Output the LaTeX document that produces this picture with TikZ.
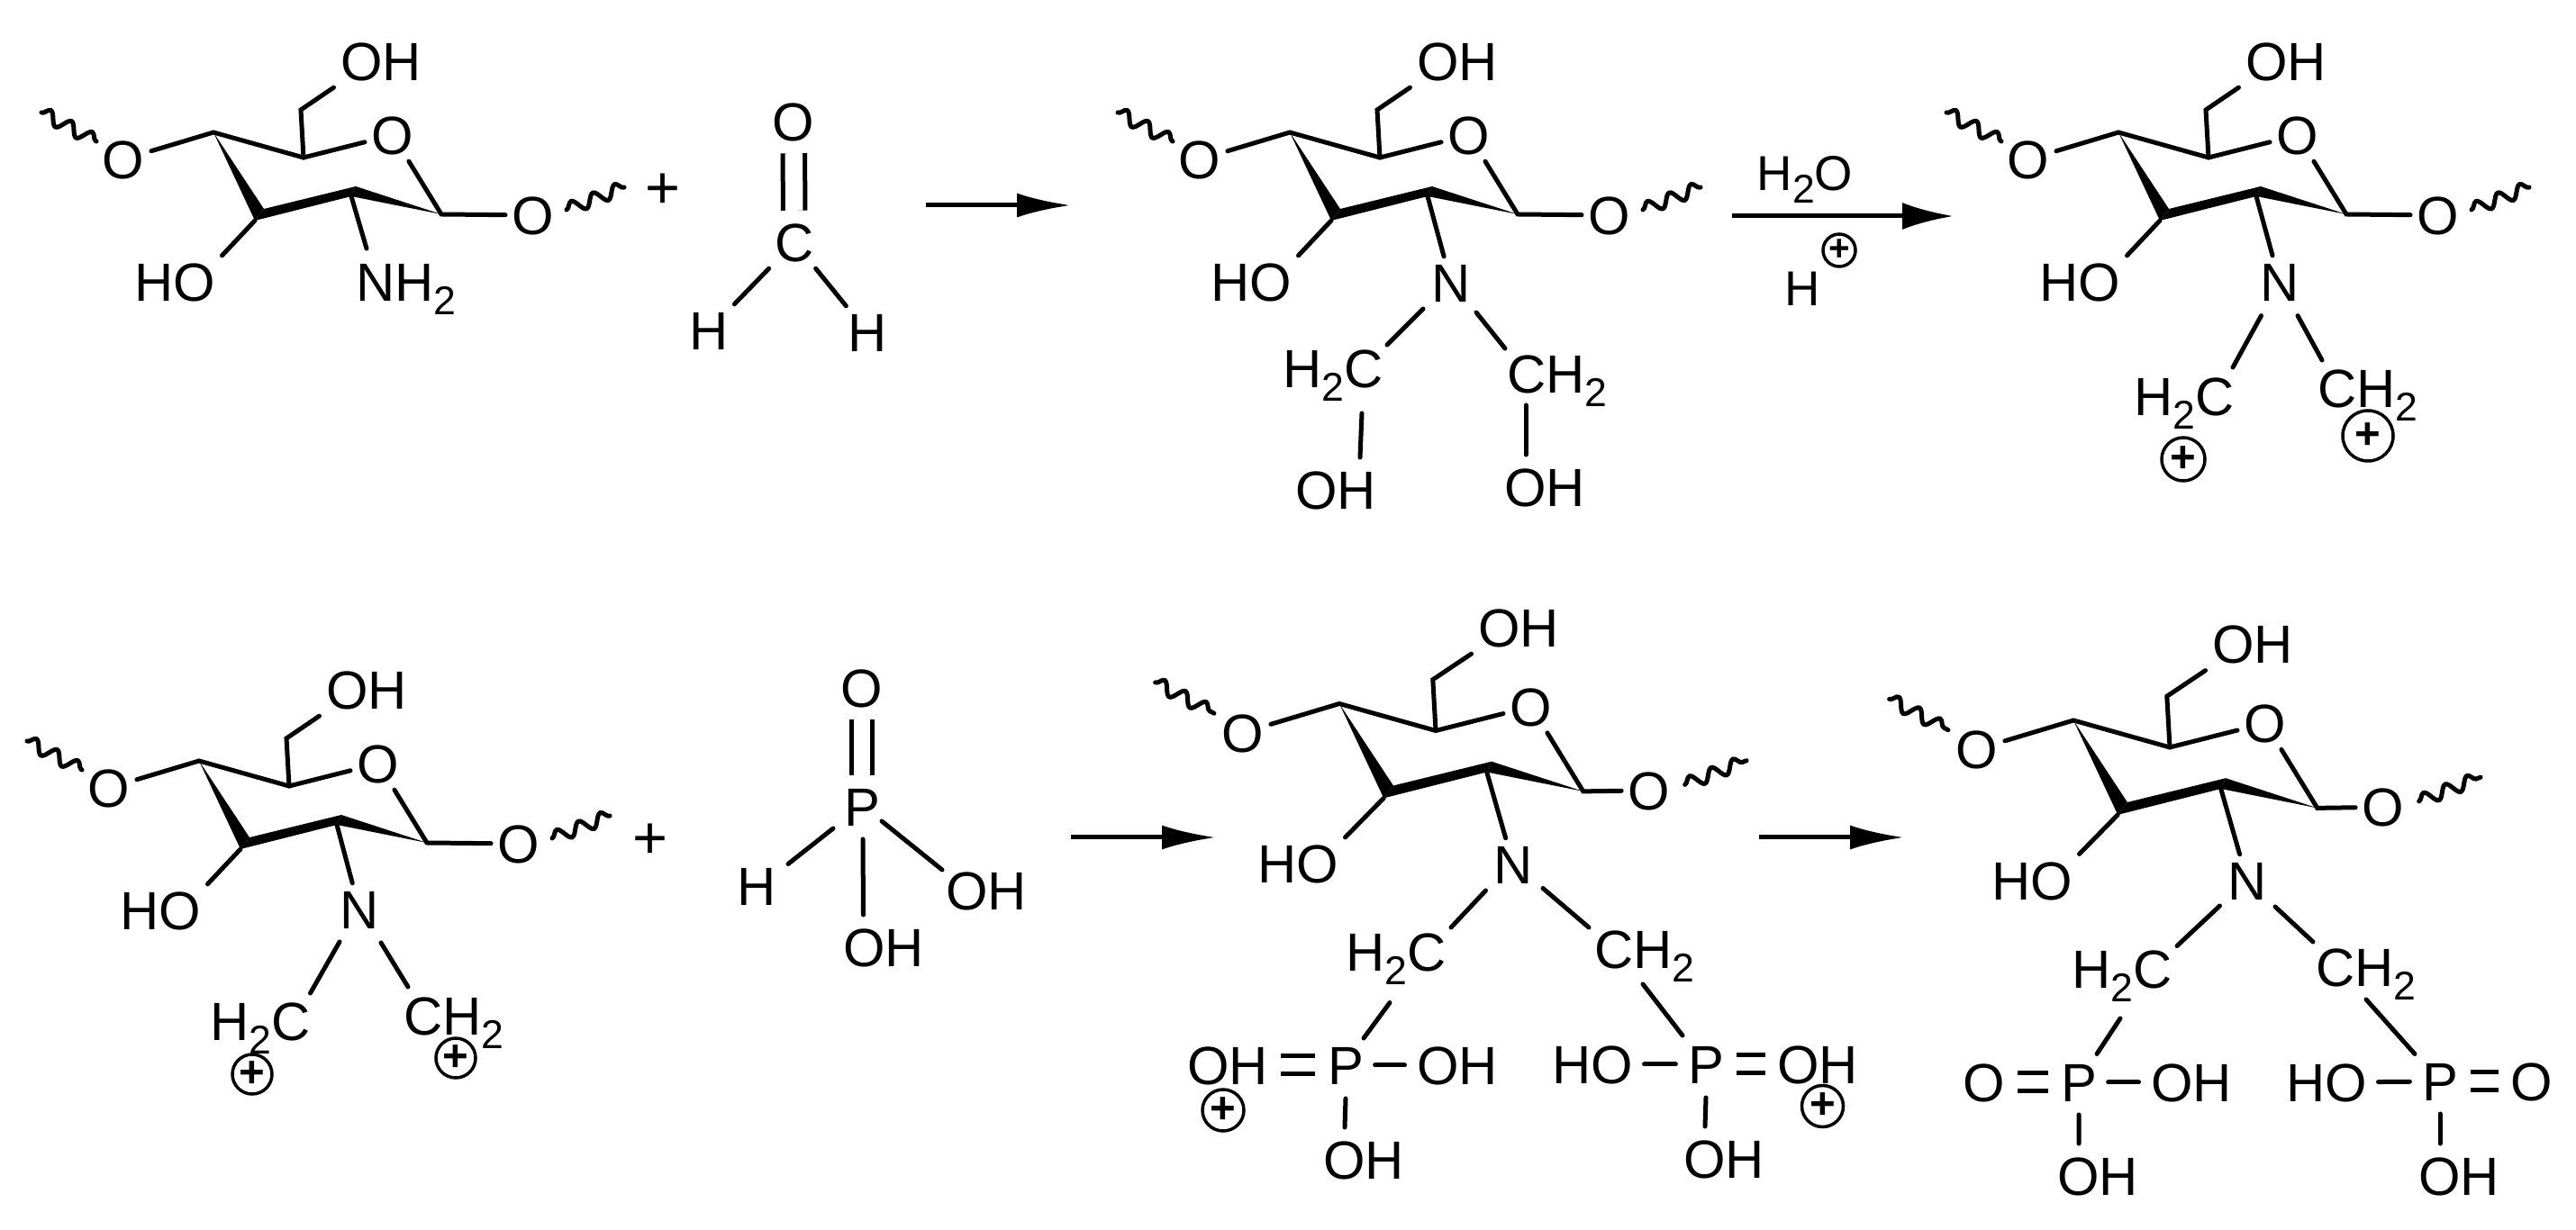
\documentclass[tikz,border=0pt]{standalone}
\usepackage{fontspec}
\setmainfont{Liberation Sans}
\usetikzlibrary{arrows.meta,calc,decorations.pathmorphing}
\newcommand{\atomfont}{\fontsize{17}{20}\selectfont}
\newcommand{\reagentfont}{\fontsize{15.5}{18}\selectfont}
\newcommand{\subtwo}{\raisebox{-.25em}{\fontsize{12.7}{14}\selectfont 2}}
\tikzset{
    atom/.style={font=\atomfont,inner sep=.07cm,text height=.43cm,text depth=0pt},
    bond/.style={line width=.05cm,line cap=round},
    pbond/.style={bond,shorten <=.05cm,shorten >=.06cm},
    dblbond/.style={line width=.05cm,double,double distance=.15cm,shorten <=.06cm,shorten >=.06cm},
    wiggle/.style={line width=.05cm,line cap=round,decorate,decoration={snake,segment length=.26cm,amplitude=.07cm}},
    reaction/.style={line width=.05cm,-{Latex[length=.6cm,width=.27cm]}},
    charge/.style={draw,circle,line width=.035cm,inner sep=0pt,minimum size=#1,font=\bfseries\fontsize{14}{16}\selectfont},
    plussign/.style={font=\fontsize{19}{22}\selectfont,inner sep=0pt}
}
\newcommand{\sugarunit}[2]{
    \coordinate (#1c4) at (0,0);
    \coordinate (#1c5) at (1.00,-.28);
    \coordinate (#1c6) at (.97,.25);
    \coordinate (#1c1) at (2.53,-.91);
    \coordinate (#1c2) at (1.58,-.60);
    \coordinate (#1k) at (1.53,-.71);
    \coordinate (#1c3) at (.56,-.85);
    \coordinate (#1m) at (.46,-.98);
    \node[atom] (#1oh) at (1.86,.79) {OH};
    \node[atom] (#1o) at (1.99,-.03) {O};
    \node[atom] (#1ol) at (-1.00,-.30) {O};
    \node[atom] (#1or) at (#2) {O};
    \node[atom] (#1ho) at (-.43,-1.66) {HO};
    \fill (#1c4) -- (#1c3) -- (#1m) -- cycle;
    \fill (#1c3) -- (#1c2) -- (#1k) -- (#1m) -- cycle;
    \fill (#1c2) -- (#1c1) -- (#1k) -- cycle;
    \draw[bond] (#1ol) -- (#1c4) -- (#1c5) -- (#1o);
    \draw[bond] (#1o) -- (#1c1) -- (#1or);
    \draw[bond] (#1c5) -- (#1c6) -- (#1oh.south west);
    \draw[bond] (#1m) -- (#1ho.north east);
    \draw[wiggle] (-1.91,.22) -- (-1.30,-.10);
    \draw[wiggle] ($(#1or)+(.37,.06)$) -- ($(#1or)+(1.01,.31)$);
}
\begin{document}
\begin{tikzpicture}
    \useasboundingbox (0,0) rectangle (28.6,13.65);

    \begin{scope}[shift={(2.37,12.18)}]
        \sugarunit{a}{3.55,-.92}
    \end{scope}
    \node[atom] (anh) at (4.51,10.515) {NH\subtwo};
    \draw[bond] (ak) -- ($(anh)+(-.44,.375)$);
    \node[plussign] (plusa) at (7.36,11.53) {+};

    \node[atom] (fo) at (8.81,12.30) {O};
    \node[atom] (fc) at (8.82,10.96) {C};
    \node[atom] (fhl) at (7.87,9.98) {H};
    \node[atom] (fhr) at (9.63,9.96) {H};
    \draw[dblbond,double distance=.195cm] (fo) -- (fc);
    \draw[bond] (fc) -- (fhl);
    \draw[bond] (fc) -- (fhr);
    \coordinate (ra) at (10.28,11.37);
    \coordinate (rb) at (11.89,11.37);
    \draw[reaction] (ra) -- (rb);

    \begin{scope}[shift={(14.32,12.18)}]
        \sugarunit{b}{3.55,-.92}
    \end{scope}
    \node[atom] (bn) at (16.11,10.51) {N};
    \node[atom] (bhc) at (14.80,9.56) {H\subtwo C};
    \node[atom] (bch) at (17.29,9.50) {CH\subtwo};
    \node[atom] (bohl) at (14.83,8.21) {OH};
    \node[atom] (bohr) at (17.15,8.24) {OH};
    \draw[bond] (bk) -- (bn);
    \draw[bond] ($(bn)+(-.31,-.29)$) -- ($(bhc)+(.60,.26)$);
    \draw[bond] ($(bn)+(.28,-.33)$) -- ($(bch)+(-.58,.28)$);
    \draw[bond] ($(bhc)+(.32,-.50)$) -- ($(bohl)+(.27,.36)$);
    \draw[bond] ($(bch)+(-.35,-.35)$) -- ($(bohr)+(-.21,.36)$);

    \node[atom,font=\reagentfont] (wat) at (20.04,11.75) {H\subtwo O};
    \node[atom,font=\reagentfont] (hyd) at (20.01,10.47) {H};
    \node[charge=.36cm,font=\bfseries\fontsize{11.5}{13}\selectfont] (hydp) at (20.42,10.87) {+};
    \coordinate (rc) at (19.23,11.25);
    \coordinate (rd) at (21.69,11.25);
    \draw[reaction,-{Latex[length=.57cm,width=.3cm]}] (rc) -- (rd);

    \begin{scope}[shift={(23.52,12.18)}]
        \sugarunit{c}{3.55,-.92}
    \end{scope}
    \node[atom] (cn) at (25.31,10.52) {N};
    \node[atom] (chc) at (24.25,9.25) {H\subtwo C};
    \node[atom] (cch) at (26.29,9.34) {CH\subtwo};
    \node[charge=.48cm] (cpl) at (24.24,8.55) {+};
    \node[charge=.56cm] (cpr) at (26.29,8.81) {+};
    \draw[bond] (ck) -- (cn);
    \draw[bond] ($(cn)+(-.205,-.376)$) -- ($(chc)+(.54,.32)$);
    \draw[bond] ($(cn)+(.20,-.376)$) -- ($(cch)+(-.51,.31)$);

    \begin{scope}[shift={(2.21,5.20)}]
        \sugarunit{d}{3.55,-.92}
    \end{scope}
    \node[atom] (dn) at (3.99,3.55) {N};
    \node[atom] (dhc) at (2.89,2.31) {H\subtwo C};
    \node[atom] (dch) at (5.04,2.37) {CH\subtwo};
    \node[charge=.44cm] (dpl) at (2.80,1.72) {+};
    \node[charge=.44cm] (dpr) at (5.06,1.90) {+};
    \draw[bond] (dk) -- (dn);
    \draw[bond] ($(dn)+(-.22,-.36)$) -- ($(dhc)+(.555,.31)$);
    \draw[bond] ($(dn)+(.24,-.37)$) -- ($(dch)+(-.51,.32)$);
    \node[plussign] (plusd) at (7.22,4.31) {+};

    \node[atom] (po) at (9.57,6.01) {O};
    \node[atom] (pp) at (9.57,4.69) {P};
    \node[atom] (ph) at (8.40,3.81) {H};
    \node[atom] (por) at (10.95,3.76) {OH};
    \node[atom] (pob) at (9.81,3.125) {OH};
    \draw[dblbond,double distance=.18cm] (po) -- (pp);
    \draw[bond] ($(pp)+(-.32,-.24)$) -- ($(ph)+(.35,.245)$);
    \draw[bond] ($(pp)+(.22,-.16)$) -- ($(por)+(-.49,.23)$);
    \draw[bond] ($(pp)+(.01,-.36)$) -- ($(pob)+(-.225,.365)$);
    \coordinate (re) at (11.89,4.35);
    \coordinate (rf) at (13.50,4.35);
    \draw[reaction] (re) -- (rf);

    \begin{scope}[shift={(14.87,5.835)},scale=1.07]
        \sugarunit{e}{3.215,-.90}
    \end{scope}
    \node[atom] (en) at (16.80,4.05) {N};
    \node[atom] (ehc) at (15.50,3.08) {H\subtwo C};
    \node[atom] (ech) at (18.26,3.11) {CH\subtwo};
    \node[atom] (eoa) at (13.63,1.82) {OH};
    \node[atom] (epl) at (14.94,1.82) {P};
    \node[atom] (eob) at (16.18,1.82) {OH};
    \node[atom] (eoc) at (15.14,.77) {OH};
    \node[charge=.46cm] (eql) at (13.58,1.32) {+};
    \node[atom] (eod) at (17.68,1.83) {HO};
    \node[atom] (epr) at (18.94,1.83) {P};
    \node[atom] (eoe) at (20.18,1.83) {OH};
    \node[atom] (eof) at (19.14,.78) {OH};
    \node[charge=.46cm] (eqr) at (20.235,1.365) {+};
    \draw[bond] (ek) -- (en);
    \draw[bond] ($(en)+(-.305,-.29)$) -- ($(ehc)+(.61,.27)$);
    \draw[bond] ($(en)+(.33,-.265)$) -- ($(ech)+(-.62,.24)$);
    \draw[bond] ($(ehc)+(-.07,-.565)$) -- ($(epl)+(.20,.30)$);
    \draw[bond] ($(ech)+(-.02,-.39)$) -- ($(epr)+(-.26,.32)$);
    \draw[dblbond] (eoa) -- (epl);
    \draw[pbond] (epl) -- (eob);
    \draw[bond] ($(epl)+(0,-.37)$) -- ($(eoc)+(-.21,.36)$);
    \draw[pbond] (eod) -- (epr);
    \draw[dblbond] (epr) -- (eoe);
    \draw[bond] ($(epr)+(0,-.37)$) -- ($(eof)+(-.21,.36)$);
    \coordinate (rg) at (19.53,4.35);
    \coordinate (rh) at (21.14,4.35);
    \draw[reaction] (rg) -- (rh);

    \begin{scope}[shift={(23.02,5.65)},scale=1.07]
        \sugarunit{f}{3.215,-.90}
    \end{scope}
    \node[atom] (fn) at (24.95,3.87) {N};
    \node[atom] (fhc) at (23.56,2.89) {H\subtwo C};
    \node[atom] (fch) at (26.27,2.91) {CH\subtwo};
    \node[atom] (foa) at (22.03,1.63) {O};
    \node[atom] (fpl) at (23.08,1.63) {P};
    \node[atom] (fob) at (24.33,1.63) {OH};
    \node[atom] (foc) at (23.29,.59) {OH};
    \node[atom] (fod) at (25.83,1.63) {HO};
    \node[atom] (fpr) at (27.09,1.64) {P};
    \node[atom] (foe) at (28.11,1.64) {O};
    \node[atom] (fof) at (27.30,.59) {OH};
    \draw[bond] (fk) -- (fn);
    \draw[bond] ($(fn)+(-.305,-.28)$) -- ($(fhc)+(.61,.255)$);
    \draw[bond] ($(fn)+(.31,-.29)$) -- ($(fch)+(-.59,.28)$);
    \draw[bond] ($(fhc)+(-.02,-.55)$) -- ($(fpl)+(.20,.315)$);
    \draw[bond] ($(fch)+(0,-.36)$) -- ($(fpr)+(-.28,.305)$);
    \draw[dblbond] (foa) -- (fpl);
    \draw[pbond] (fpl) -- (fob);
    \draw[bond] ($(fpl)+(0,-.36)$) -- ($(foc)+(-.21,.36)$);
    \draw[pbond] (fod) -- (fpr);
    \draw[dblbond] (fpr) -- (foe);
    \draw[bond] ($(fpr)+(0,-.36)$) -- ($(fof)+(-.21,.36)$);
\end{tikzpicture}
\end{document}
